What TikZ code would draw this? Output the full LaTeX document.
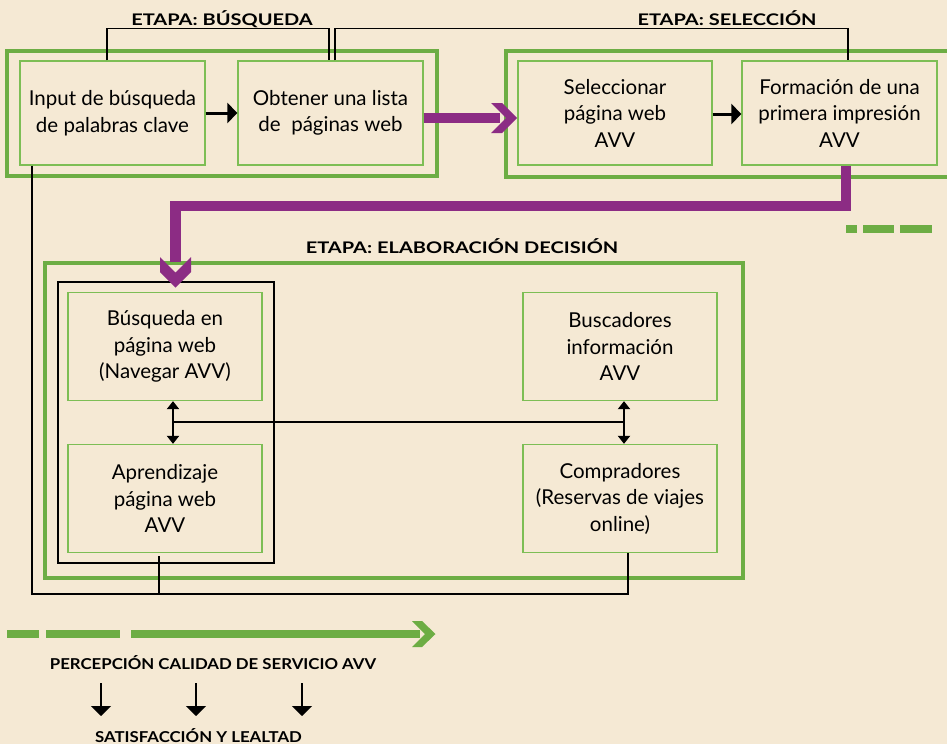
\documentclass[tikz,border=0pt]{standalone}
\usepackage{fontspec}
\setmainfont{Lato}
\newfontfamily\stagefont[FakeStretch=1.25]{Lato Bold}
\newfontfamily\labelfont[FakeStretch=1.12]{Lato Bold}
\usetikzlibrary{arrows.meta,calc}
\definecolor{bg}{HTML}{F5E9D4}
\definecolor{gdark}{HTML}{6DAD44}
\definecolor{glight}{HTML}{7DBE55}
\definecolor{purp}{HTML}{8C2C84}
\tikzset{
  box/.style={draw=glight, line width=1.3pt, minimum width=194pt, minimum height=108pt,
    align=center, inner sep=2pt, font=\fontsize{20.5}{26.5}\selectfont},
  stageframe/.style={draw=gdark, line width=4pt},
  title/.style={font=\stagefont\fontsize{16}{18}\selectfont, anchor=base},
  blabel/.style={font=\labelfont\fontsize{15}{17}\selectfont, anchor=base},
  conn/.style={line width=1.3pt, black},
  fatarrow/.style={line width=3pt, -{Triangle[length=10pt,width=20pt]}},
  dblarrow/.style={line width=2.6pt, {Triangle[length=8pt,width=12pt]}-{Triangle[length=8pt,width=12pt]}},
  downarrow/.style={line width=2pt, -{Triangle[length=10pt,width=20pt]}},
  purpline/.style={draw=purp, line width=10.5pt},
  greenline/.style={draw=gdark, line width=8.5pt},
}
\begin{document}
\begin{tikzpicture}[x=1pt,y=-1pt]
\fill[bg] (0,0) rectangle (947,744);
\useasboundingbox (0,0) rectangle (947,744);
\clip (0,0) rectangle (947,744);

% stage frames
\draw[stageframe] (7,51) rectangle (437,176);
\draw[stageframe] (506,51) rectangle (965,177);
\draw[stageframe] (45,263) rectangle (743,578);
\draw[line width=1.3pt] (58,282) rectangle (274,563);

% titles
\node[title] (t1) at (222,25) {ETAPA: BÚSQUEDA};
\node[title] (t2) at (727,25) {ETAPA: SELECCIÓN};
\node[title] (t3) at (462,253) {ETAPA: ELABORACIÓN DECISIÓN};

% boxes
\node[box, minimum width=185pt, minimum height=104pt] (inp) at (112.5,113) {Input de búsqueda\\de palabras clave};
\node[box, minimum width=185pt, minimum height=104pt] (obt) at (330.5,113) {Obtener una lista\\de~~páginas web};
\node[box, minimum height=104pt] (sel) at (615,113) {Seleccionar\\página web\\AVV};
\node[box, minimum width=195pt, minimum height=104pt] (form) at (839.5,113) {Formación de una\\primera impresión\\AVV};
\node[box] (bus) at (165,346.5) {Búsqueda en\\página web\\(Navegar AVV)};
\node[box] (apr) at (165,498.5) {Aprendizaje\\página web\\AVV};
\node[box] (busc) at (620,346.5) {Buscadores\\información\\AVV};
\node[box] (comp) at (620,498.5) {Compradores\\(Reservas de viajes\\online)};

% brackets
\draw[conn] ([xshift=-5.5pt]inp.north) -- ++(0,-32) -| ([xshift=-1.5pt]obt.north);
\draw[conn] ([xshift=4.5pt]obt.north) -- ++(0,-32) -| ([xshift=8.5pt]form.north);

% bottom loop
\coordinate (lpL) at (32,594);
\coordinate (lpR) at (628,594);
\draw[conn] (inp.south west -| lpL) -- (lpL) -- (lpR) -- (comp.south -| lpR);
\draw[conn] ([xshift=-6pt,yshift=-3pt]apr.south) -- ([xshift=-6pt]apr.south |- lpL);

% black arrows
\draw[fatarrow] (inp.east) -- (obt.west);
\draw[fatarrow] ([yshift=-1pt]sel.east) -- ([yshift=-1pt]form.west);
\coordinate (dl) at (173,422);
\coordinate (dr) at (624,422);
\draw[dblarrow] (bus.south -| dl) -- (apr.north -| dl);
\draw[dblarrow] (busc.south -| dr) -- (comp.north -| dr);
\draw[line width=2.4pt] (dl) -- (dr);

% purple arrows
\draw[purpline] (obt.east |- 0,118) -- (500,118);
\fill[purp] (491,103) -- (502,103) -- (517,118) -- (502,133) -- (491,133) -- (506,118) -- cycle;
\draw[purpline] (form.south -| 846,0) |- (175.5,206) -- (175.5,262);
\fill[purp] (160,257) -- (175.5,272.5) -- (191,257) -- (191,272) -- (175.5,287.5) -- (160,272) -- cycle;

% green dashes right
\draw[greenline, line width=8pt] (846,229) -- (857,229) (863,229) -- (894,229) (900,229) -- (932,229);

% bottom green arrow
\draw[greenline] (7,634) -- (39,634) (46,634) -- (120,634) (131,634) -- (420,634);
\fill[gdark] (412,621) -- (422,621) -- (435.5,634) -- (422,647) -- (412,647) -- (425,634) -- cycle;

% bottom texts
\node[blabel] (perc) at (213,669) {PERCEPCIÓN CALIDAD DE SERVICIO AVV};
\node[blabel] (sat) at (198.5,742) {SATISFACCIÓN Y LEALTAD};
\foreach \x/\n in {101/a,196/b,302/c}{
  \coordinate (s\n) at (\x,683);
  \coordinate (e\n) at (\x,716);
  \draw[downarrow] (s\n) -- (e\n);
}
\end{tikzpicture}
\end{document}
